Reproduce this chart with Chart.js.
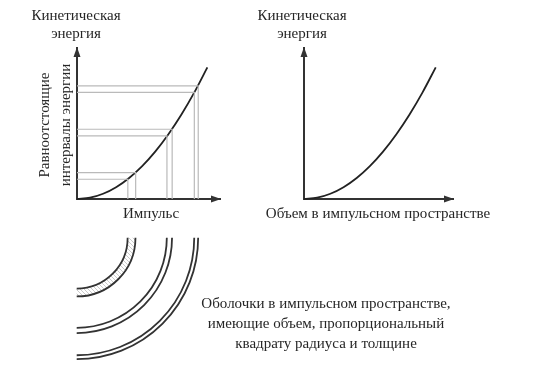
<!DOCTYPE html>
<html>
<head>
<meta charset="utf-8">
<script src="https://cdn.jsdelivr.net/npm/chart.js@4.4.0/dist/chart.umd.min.js"></script>
<style>
  body { margin: 0; background: #fff; }
  #wrap { position: relative; width: 533px; height: 387px; font-family: "Liberation Serif", serif; color: #262626; }
  .box { position: absolute; }
  .lbl { position: absolute; font-size: 15px; text-align: center; white-space: nowrap; line-height: 18px; }
</style>
</head>
<body>
<div id="wrap">
  <div class="box" style="left:55px;top:38px"><canvas id="left" width="180" height="175"></canvas></div>
  <div class="box" style="left:285px;top:38px"><canvas id="right" width="180" height="175"></canvas></div>
  <div class="box" style="left:60px;top:225px"><canvas id="shells" width="170" height="155"></canvas></div>

  <div class="lbl" style="left:16px;top:6px;width:120px">Кинетическая<br>энергия</div>
  <div class="lbl" style="left:242px;top:6px;width:120px">Кинетическая<br>энергия</div>
  <div class="lbl" style="left:-20px;top:104px;width:150px;line-height:21px;transform:rotate(-90deg)">Равноотстоящие<br>интервалы энергии</div>
  <div class="lbl" style="left:91px;top:204px;width:120px">Импульс</div>
  <div class="lbl" style="left:248px;top:204px;width:260px">Объем в импульсном пространстве</div>
  <div class="lbl" style="left:176px;top:293px;width:300px;line-height:20px">Оболочки в импульсном пространстве,<br>имеющие объем, пропорциональный<br>квадрату радиуса и толщине</div>
</div>
<script>
// kinetic energy against momentum (left panel)
const momentum = [0, 0.1, 0.2, 0.3, 0.4, 0.5, 0.6, 0.7, 0.8, 0.9, 1.0];
const energy = [0, 0.01, 0.04, 0.09, 0.16, 0.25, 0.36, 0.49, 0.64, 0.81, 1.0];

// kinetic energy against volume in momentum space (right panel)
const volume = [0, 0.1, 0.2, 0.3, 0.4, 0.5, 0.6, 0.7, 0.8, 0.9, 1.0];
const energyByVolume = [0, 0.01, 0.04, 0.09, 0.16, 0.25, 0.36, 0.49, 0.64, 0.81, 1.0];

// equally spaced energy intervals and the momentum shells they give
const levelLow = [0.15, 0.48, 0.81];
const levelHigh = [0.20, 0.53, 0.86];
const shellInner = [0.39, 0.69, 0.90];
const shellOuter = [0.45, 0.73, 0.93];

const axisColor = '#333';
const curveColor = '#222';
const guideColor = '#bababa';

function toPoints(xs, ys) {
    var pts = [];
    for (var i = 0; i < xs.length; i++) {
        pts.push({ x: xs[i], y: ys[i] });
    }
    return pts;
}

function axis(max) {
    return {
        type: 'linear',
        min: 0,
        max: max,
        grid: { display: false, drawTicks: false },
        ticks: { display: false },
        border: { display: true, color: axisColor, width: 2 }
    };
}

// arrow heads at the ends of both axes
const arrowPlugin = {
    id: 'arrows',
    afterDraw(chart) {
        const ctx = chart.ctx;
        const xs = chart.scales.x;
        const ys = chart.scales.y;
        const x0 = xs.getPixelForValue(0);
        const y0 = ys.getPixelForValue(0);
        const xEnd = xs.getPixelForValue(xs.max);
        const yEnd = ys.getPixelForValue(ys.max);
        ctx.save();
        ctx.fillStyle = axisColor;
        ctx.beginPath();
        ctx.moveTo(xEnd + 1, y0);
        ctx.lineTo(xEnd - 9, y0 - 3.5);
        ctx.lineTo(xEnd - 9, y0 + 3.5);
        ctx.closePath();
        ctx.fill();
        ctx.beginPath();
        ctx.moveTo(x0, yEnd - 1);
        ctx.lineTo(x0 - 3.5, yEnd + 9);
        ctx.lineTo(x0 + 3.5, yEnd + 9);
        ctx.closePath();
        ctx.fill();
        ctx.restore();
    }
};

const baseOptions = function (xMax, yMax) {
    return {
        responsive: false,
        animation: false,
        layout: { autoPadding: false },
        scales: { x: axis(xMax), y: axis(yMax) },
        plugins: { legend: { display: false }, tooltip: { enabled: false } },
        elements: { point: { radius: 0 } }
    };
};

// left panel: curve plus the guide lines for each energy interval
var leftSets = [];
for (var i = 0; i < levelLow.length; i++) {
    leftSets.push({
        data: [{ x: 0, y: levelLow[i] }, { x: shellInner[i], y: levelLow[i] }, { x: shellInner[i], y: 0 }],
        showLine: true, borderColor: guideColor, borderWidth: 1.2, clip: false
    });
    leftSets.push({
        data: [{ x: 0, y: levelHigh[i] }, { x: shellOuter[i], y: levelHigh[i] }, { x: shellOuter[i], y: 0 }],
        showLine: true, borderColor: guideColor, borderWidth: 1.2, clip: false
    });
}
leftSets.push({
    data: toPoints(momentum, energy),
    showLine: true, borderColor: curveColor, borderWidth: 1.8,
    cubicInterpolationMode: 'monotone', clip: false
});

var leftOpts = baseOptions(1.097, 1.147);
leftOpts.layout.padding = { left: 22, top: 10, right: 15, bottom: 14 };
new Chart(document.getElementById('left'), {
    type: 'scatter',
    data: { datasets: leftSets },
    options: leftOpts,
    plugins: [arrowPlugin]
});

// right panel: energy against volume
var rightOpts = baseOptions(1.131, 1.147);
rightOpts.layout.padding = { left: 19, top: 10, right: 12, bottom: 14 };
new Chart(document.getElementById('right'), {
    type: 'scatter',
    data: {
        datasets: [{
            data: toPoints(volume, energyByVolume),
            showLine: true, borderColor: curveColor, borderWidth: 1.8,
            cubicInterpolationMode: 'monotone', clip: false
        }]
    },
    options: rightOpts,
    plugins: [arrowPlugin]
});

// shells drawn as quarter rings, radius taken from the momentum scale
function hatchPattern(ctx) {
    var c = document.createElement('canvas');
    c.width = 4;
    c.height = 4;
    var g = c.getContext('2d');
    g.strokeStyle = '#c4c4c4';
    g.lineWidth = 0.9;
    g.beginPath();
    g.moveTo(0, 0);
    g.lineTo(4, 4);
    g.moveTo(-1, 3);
    g.lineTo(1, 5);
    g.moveTo(3, -1);
    g.lineTo(5, 1);
    g.stroke();
    return ctx.createPattern(c, 'repeat');
}

const shellPlugin = {
    id: 'shells',
    afterDraw(chart) {
        const ctx = chart.ctx;
        const xs = chart.scales.x;
        const ys = chart.scales.y;
        const cx = xs.getPixelForValue(0);
        const cy = ys.getPixelForValue(0);
        ctx.save();
        for (var i = 0; i < shellInner.length; i++) {
            var r1 = xs.getPixelForValue(shellInner[i]) - cx;
            var r2 = xs.getPixelForValue(shellOuter[i]) - cx;
            if (i === 0) {
                // the first shell is hatched
                ctx.fillStyle = hatchPattern(ctx);
                ctx.beginPath();
                ctx.arc(cx, cy, r2, 0, Math.PI / 2);
                ctx.arc(cx, cy, r1, Math.PI / 2, 0, true);
                ctx.closePath();
                ctx.fill();
            }
            ctx.strokeStyle = axisColor;
            ctx.lineWidth = 1.8;
            ctx.beginPath();
            ctx.arc(cx, cy, r1, 0, Math.PI / 2);
            ctx.stroke();
            ctx.beginPath();
            ctx.arc(cx, cy, r2, 0, Math.PI / 2);
            ctx.stroke();
        }
        ctx.restore();
    }
};

var shellOpts = baseOptions(1, 1);
shellOpts.scales.x.display = false;
shellOpts.scales.y.display = false;
shellOpts.scales.y.reverse = true;
shellOpts.layout.padding = { left: 16.7, top: 12.7, right: 22.7, bottom: 11.7 };
new Chart(document.getElementById('shells'), {
    type: 'scatter',
    data: { datasets: [] },
    options: shellOpts,
    plugins: [shellPlugin]
});
</script>
</body>
</html>
